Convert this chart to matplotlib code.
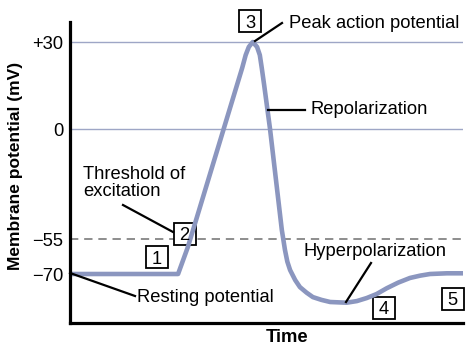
import matplotlib
matplotlib.use("Agg")
import matplotlib.pyplot as plt
import numpy as np
from matplotlib.patches import Rectangle

plt.rcParams["font.family"] = ["Liberation Sans", "DejaVu Sans"]

# action potential trace (time arbitrary, 0-10)
time_ms = [0.0, 2.75, 3.0, 4.25, 4.38, 4.47, 4.55, 4.65, 4.76, 4.83, 4.88, 4.94,
           5.09, 5.39, 5.43, 5.47, 5.53, 5.6, 5.73, 5.85, 6.02, 6.18, 6.40, 6.62,
           7.04, 7.30, 7.55, 7.80, 8.06, 8.35, 8.65, 8.91, 9.16, 9.59, 10.0]
potential_mv = [-70, -70, -58.4, 15.2, 21.0, 25.5, 28.3, 30.0, 28.3, 25.5, 21.0, 15.2,
                0, -50.5, -55.4, -59.7, -64.7, -68.3, -72.6, -75.6, -78.0, -79.9, -81.1, -82.0,
                -82.3, -81.6, -80.3, -78.6, -76.1, -73.7, -71.7, -70.7, -70.0, -69.7, -69.7]

tick_mv = [30, 0, -55, -70]
tick_labels = ["+30", "0", "\u221255", "\u221270"]
grid_mv = [30, 0]
threshold_mv = -55

# the y axis in the original is schematic (not linear); map mV -> drawing position
mv_anchor = np.array([-200, -70, -55, 0, 30, 100])
pos_anchor = np.array([-254.3, 49, 84, 194, 281, 484])


def forward(v):
    return np.interp(v, mv_anchor, pos_anchor)


def inverse(p):
    return np.interp(p, pos_anchor, mv_anchor)


def at(x, y):
    # reference pixel -> axes fraction
    return (x - 70) / 393, (323 - y) / 301


curve_color = "#8b96bf"
grid_color = "#9ea6c6"
fs = 13.2

fig = plt.figure(figsize=(4.74, 3.52), dpi=100)
ax = fig.add_axes([70 / 474, 1 - 323 / 352, 393 / 474, 301 / 352])
ax.set_yscale("function", functions=(forward, inverse))
ax.set_xlim(0, 10)
ax.set_ylim(-91, 36.9)

for v in grid_mv:
    ax.axhline(v, color=grid_color, lw=1.0, zorder=1)
ax.axhline(threshold_mv, color="#7a7a7a", lw=1.2, ls=(0, (5, 3.5)), zorder=1)

ax.plot(time_ms, potential_mv, color=curve_color, lw=3.3,
        solid_joinstyle="round", solid_capstyle="round", zorder=4)

ax.set_yticks(tick_mv)
ax.set_yticklabels(tick_labels, fontsize=fs)
ax.set_xticks([])
ax.tick_params(axis="y", length=0, pad=5)
ax.yaxis.set_minor_locator(matplotlib.ticker.NullLocator())

for s in ["top", "right"]:
    ax.spines[s].set_visible(False)
for s in ["left", "bottom"]:
    ax.spines[s].set_linewidth(2.3)
    ax.spines[s].set_zorder(6)

ax.set_ylabel("Membrane potential (mV)", fontsize=12.5, fontweight="bold")
ax.yaxis.set_label_coords(*at(16, 166))
ax.yaxis.label.set_va("center")
ax.set_xlabel("Time", fontsize=fs, fontweight="bold")
ax.xaxis.set_label_coords(*at(287, 337))
ax.xaxis.label.set_va("center")

# leader lines
leaders = [
    ((255, 41), (282, 23)),
    ((268, 110), (305, 110)),
    ((123, 205), (173, 232)),
    ((70, 273), (135, 296)),
    ((346, 302), (371, 263)),
]
for a, b in leaders:
    (x0, y0), (x1, y1) = at(*a), at(*b)
    ax.plot([x0, x1], [y0, y1], color="black", lw=1.6, transform=ax.transAxes,
            clip_on=False, zorder=5)

labels = [
    ("Peak action potential", 289, 23),
    ("Repolarization", 310, 110),
    ("Threshold of\nexcitation", 83, 183),
    ("Resting potential", 137, 297),
]
for txt, x, y in labels:
    ax.text(*at(x, y), txt, fontsize=fs, ha="left", va="center",
            linespacing=1.05, transform=ax.transAxes)
ax.text(*at(375, 252), "Hyperpolarization", fontsize=fs, ha="center",
        va="center", transform=ax.transAxes)

# numbered boxes
boxes = [("1", 157, 257), ("2", 184.5, 234), ("3", 250, 21),
         ("4", 383.5, 308), ("5", 452.5, 298.5)]
for num, x, y in boxes:
    bx, by = at(x - 11, y + 11)
    ax.add_patch(Rectangle((bx, by), 22 / 393, 22 / 301, transform=ax.transAxes,
                           fc="white", ec="black", lw=1.3, clip_on=False, zorder=3))
    ax.text(*at(x, y), num, fontsize=fs, ha="center", va="center_baseline",
            transform=ax.transAxes, zorder=5)

fig.savefig("out.png", dpi=100)
